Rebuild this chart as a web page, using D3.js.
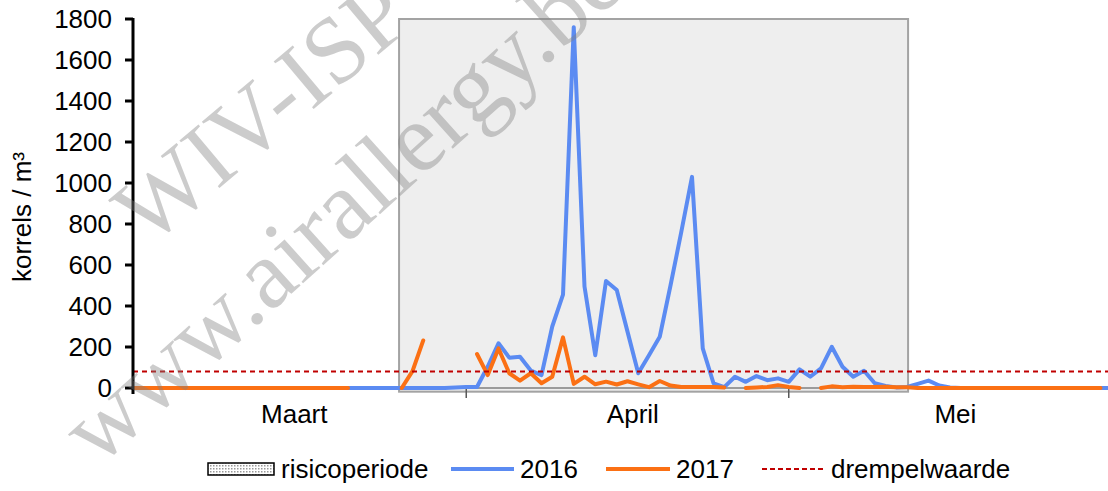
<!DOCTYPE html>
<html><head><meta charset="utf-8">
<script src="https://cdn.jsdelivr.net/npm/d3@7"></script>
<style>body{margin:0;background:#fff}svg{display:block}text{font-family:"Liberation Sans",Arial,sans-serif}text.wm{font-family:"Liberation Serif","Times New Roman",serif}</style>
</head><body><svg id="c" width="1108" height="491"></svg>
<script>
// Day index 0 = 1 maart ... 91 = 31 mei
const yTicks = [0,200,400,600,800,1000,1200,1400,1600,1800];
const monthLabels = ["Maart","April","Mei"];
const monthLabelDays = [15, 46.5, 76.5];
const monthTickDays = [0, 31, 61];
const threshold = 80;
const riskPeriod = [24.75, 72.1];
const series2016 = [
 0,0,0,0,0,0,0,0,0,0, 0,0,0,0,0,0,0,0,0,0, 0,0,0,0,0,0,0,0,0,0, 2,
 5,5,105,218,148,152,85,63,300,455, 1760,495,160,522,478,275,72,160,250,500, 760,1030,193,23,4,55,30,58,38,47,
 30,91,55,96,201,104,55,84,23,10, 3,5,20,36,12,3,0,0,0,0, 0,0,0,0,0,0,0,0,0,0, 0
];
const series2017 = [
 0,0,0,0,0,0,0,0,0,0, 0,0,0,0,0,0,0,0,0,0, 0,null,null,null,null,0,82,232,null,null, null,
 null,166,63,193,72,36,72,23,55,247, 20,55,18,31,17,33,18,4,34,12, 5,5,5,5,3,null,0,3,5,14,
 5,0,null,0,8,4,6,5,5,6, 4,4,0,0,0,0,0,0,0,0, 0,0,0,0,0,0,0,0,0,0, null
];
const legendItems = ["risicoperiode","2016","2017","drempelwaarde"];
const watermarkLines = ["WIV-ISP","www.airallergy.be"];

const svg = d3.select("#c");
const x = d3.scaleLinear().domain([0,91]).range([133,1111.25]);
const y = d3.scaleLinear().domain([0,1800]).range([388,19]);

const defs = svg.append("defs");
const pat = defs.append("pattern").attr("id","dots").attr("width",3).attr("height",3).attr("patternUnits","userSpaceOnUse");
pat.append("rect").attr("width",3).attr("height",3).attr("fill","#fff");
pat.append("rect").attr("width",1.5).attr("height",1.5).attr("fill","#9a9a9a");

// risk period box
svg.append("rect")
  .attr("x", x(riskPeriod[0])).attr("y", y(1800))
  .attr("width", x(riskPeriod[1]) - x(riskPeriod[0]))
  .attr("height", y(-18) - y(1800))
  .attr("fill","#eeeeee").attr("stroke","#a3a3a3").attr("stroke-width",2);

// x axis line
svg.append("line").attr("x1",x(0)).attr("x2",1108).attr("y1",y(0)).attr("y2",y(0))
  .attr("stroke","#7f7f7f").attr("stroke-width",1.5);
svg.selectAll(".xt").data(monthTickDays.slice(1)).join("line")
  .attr("x1",d=>x(d)).attr("x2",d=>x(d)).attr("y1",y(0)).attr("y2",y(0)+10)
  .attr("stroke","#595959").attr("stroke-width",1.5);
svg.selectAll(".xl").data(monthLabels).join("text")
  .attr("x",(d,i)=>x(monthLabelDays[i])).attr("y",423)
  .attr("text-anchor","middle").attr("font-size",26).attr("fill","#000").text(d=>d);

// lines
const line = d3.line().defined(v=>v!=null).x((v,i)=>x(i)).y(v=>y(v));
svg.append("path").datum(series2016).attr("d",line).attr("fill","none")
  .attr("stroke","#5b8bf2").attr("stroke-width",4).attr("stroke-linejoin","round").attr("stroke-linecap","round");
svg.append("path").datum(series2017).attr("d",line).attr("fill","none")
  .attr("stroke","#fb7014").attr("stroke-width",4).attr("stroke-linejoin","round").attr("stroke-linecap","round");

// threshold
svg.append("line").attr("x1",x(0)).attr("x2",1108).attr("y1",y(threshold)).attr("y2",y(threshold))
  .attr("stroke","#c00000").attr("stroke-width",2).attr("stroke-dasharray","5,4");

// y axis
svg.append("line").attr("x1",133).attr("x2",133).attr("y1",y(1800)-1).attr("y2",y(0)+6)
  .attr("stroke","#000").attr("stroke-width",3);
svg.selectAll(".yt").data(yTicks).join("line")
  .attr("x1",125).attr("x2",133).attr("y1",d=>y(d)).attr("y2",d=>y(d))
  .attr("stroke","#000").attr("stroke-width",3);
svg.selectAll(".yl").data(yTicks).join("text")
  .attr("x",112).attr("y",d=>y(d)).attr("dy","0.36em")
  .attr("text-anchor","end").attr("font-size",26).attr("fill","#000").text(d=>d);
svg.append("text").attr("transform","translate(31,217) rotate(-90)")
  .attr("text-anchor","middle").attr("font-size",26).attr("fill","#000").text("korrels / m³");

// legend
const ly = 469;
svg.append("rect").attr("x",208).attr("y",463).attr("width",66).attr("height",12)
  .attr("fill","url(#dots)").attr("stroke","#000").attr("stroke-width",1.5);
svg.append("line").attr("x1",451).attr("x2",514).attr("y1",ly).attr("y2",ly).attr("stroke","#5b8bf2").attr("stroke-width",4);
svg.append("line").attr("x1",606).attr("x2",670).attr("y1",ly).attr("y2",ly).attr("stroke","#fb7014").attr("stroke-width",4);
svg.append("line").attr("x1",762).attr("x2",826).attr("y1",ly).attr("y2",ly).attr("stroke","#c00000").attr("stroke-width",2).attr("stroke-dasharray","5,3");
const lx = [281,520,676,831];
svg.selectAll(".lg").data(legendItems).join("text")
  .attr("x",(d,i)=>lx[i]).attr("y",ly).attr("dy","0.36em")
  .attr("font-size",26).attr("fill","#000").text(d=>d);

// watermark
const wm = [[148,248,-40,95],[98,468,-42,98]];
svg.selectAll(".wm").data(watermarkLines).join("text").attr("class","wm")
  .attr("transform",(d,i)=>`translate(${wm[i][0]},${wm[i][1]}) rotate(${wm[i][2]})`)
  .attr("font-size",(d,i)=>wm[i][3]).attr("fill","rgba(128,128,128,0.4)").text(d=>d);
</script></body></html>
